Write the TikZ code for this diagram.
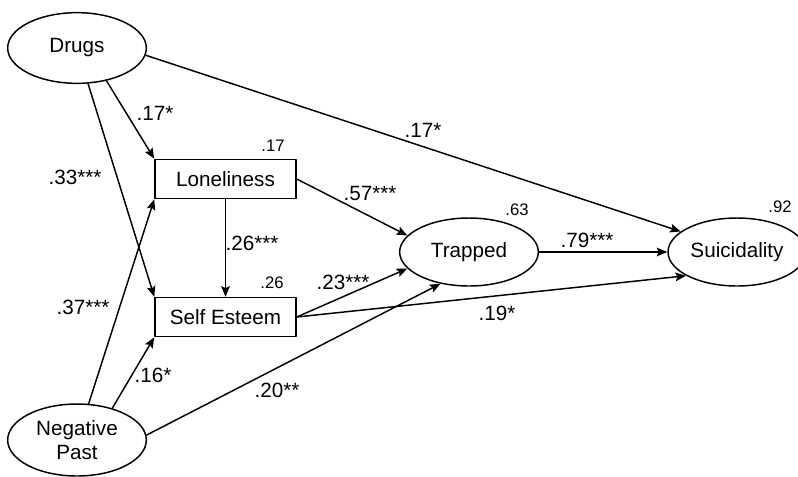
\documentclass[tikz,border=0pt]{standalone}
\usepackage{fontspec}
\setmainfont{Liberation Sans}
\usetikzlibrary{arrows.meta,shapes.geometric}

\begin{document}
\begin{tikzpicture}[x=0.75pt, y=-0.75pt, >={Stealth[length=8pt,width=6.5pt,inset=1.5pt]},
  line width=1.1pt, line join=round,
  latent/.style={ellipse, draw, inner sep=0pt, align=center,
    font=\fontsize{15.5}{17.5}\selectfont},
  observed/.style={rectangle, draw, minimum width=105.75pt, minimum height=29.25pt,
    inner sep=0pt, font=\fontsize{15.5}{17.5}\selectfont},
  coef/.style={inner sep=0pt, font=\fontsize{15.5}{17.5}\selectfont},
  rsq/.style={inner sep=0pt, font=\fontsize{12.5}{14}\selectfont}]

\useasboundingbox (0,0) rectangle (798,476);

% ---------- variables ----------
\node[latent, minimum width=104pt, minimum height=53pt] (drugs) at (77,48) {Drugs};
\node[latent, minimum width=104pt, minimum height=54pt] (negpast) at (77,440) {Negative\\Past};
\node[observed] (lone) at (225.5,179) {Loneliness};
\node[observed] (esteem) at (225.5,317) {Self Esteem};
\node[latent, minimum width=104pt, minimum height=51pt] (trapped) at (469,252) {Trapped};
\node[latent, minimum width=103.5pt, minimum height=51pt] (suicid) at (737,252) {Suicidality};

% ---------- paths ----------
\draw[->] (drugs.-48) -- (lone.north west);
\draw[->] (drugs) -- (esteem.north west);
\draw[->] (drugs.-6) -- (suicid.160);
\draw[->] (lone.east) -- (trapped.165);
\draw[->] (lone) -- (esteem);
\draw[->] (esteem.east) -- (trapped.195);
\draw[->] (esteem.east) -- (suicid.205);
\draw[->] (negpast) -- (lone.south west);
\draw[->] (negpast.42) -- (esteem.south west);
\draw[->] (negpast.4) -- (trapped.228);
\draw[->] (trapped) -- (suicid);

% ---------- coefficients ----------
\node[coef] (c_dl) at (155,113) {.17*};
\node[coef] (c_de) at (75,177) {.33***};
\node[coef] (c_ds) at (423,130) {.17*};
\node[coef] (c_le) at (252,243) {.26***};
\node[coef] (c_lt) at (370,193) {.57***};
\node[coef] (c_et) at (343,282) {.23***};
\node[coef] (c_es) at (497,313) {.19*};
\node[coef] (c_nl) at (83,307) {.37***};
\node[coef] (c_ne) at (153,375) {.16*};
\node[coef] (c_nt) at (277,390) {.20**};
\node[coef] (c_ts) at (587,240) {.79***};

% ---------- explained variance ----------
\node[rsq] (r_lone) at (273,146) {.17};
\node[rsq] (r_esteem) at (272,283) {.26};
\node[rsq] (r_trapped) at (517,210) {.63};
\node[rsq] (r_suicid) at (780,207) {.92};

\end{tikzpicture}
\end{document}
